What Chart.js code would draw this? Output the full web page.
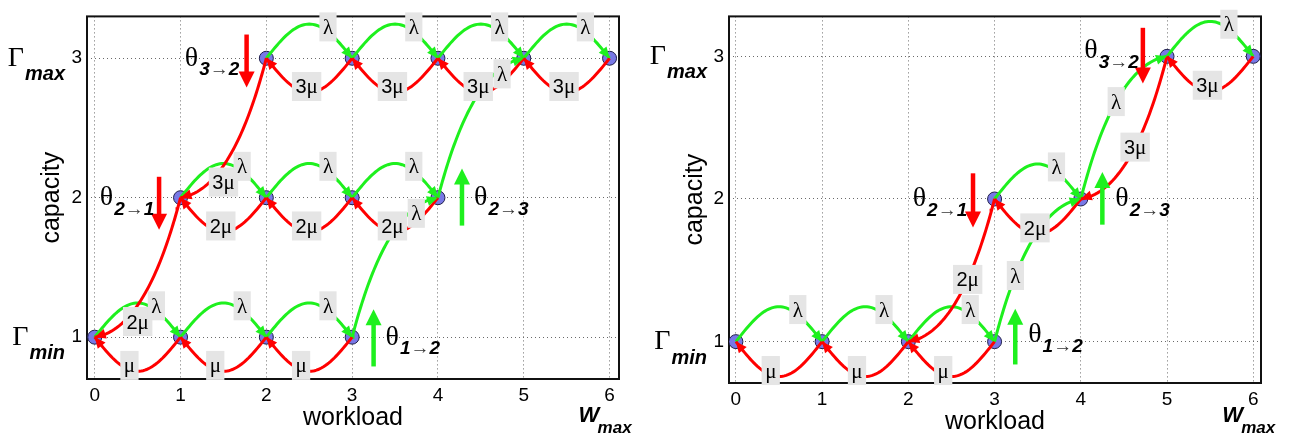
<!DOCTYPE html>
<html>
<head>
<meta charset="utf-8">
<script src="https://cdn.jsdelivr.net/npm/chart.js@4.4.1/dist/chart.umd.min.js"></script>
<style>
  body { margin: 0; background: #fff; width: 1290px; height: 441px; overflow: hidden; position: relative; }
  canvas { position: absolute; top: 0; }
  #left { left: 0; }
  #right { left: 645px; }
</style>
</head>
<body>
<canvas id="left" width="645" height="441"></canvas>
<canvas id="right" width="645" height="441"></canvas>
<script>
// axis ticks
var xTicks = [0, 1, 2, 3, 4, 5, 6];
var yTicks = [1, 2, 3];
var capLabels = [[3, "max"], [1, "min"]];

// left panel: states [workload, capacity]
var statesA = [[0, 1], [1, 1], [2, 1], [3, 1], [1, 2], [2, 2], [3, 2], [4, 2],
               [2, 3], [3, 3], [4, 3], [5, 3], [6, 3]];
// arrivals [from w, from c, to w, to c, rate]
var upA = [[0, 1, 1, 1, "λ"], [1, 1, 2, 1, "λ"], [2, 1, 3, 1, "λ"],
           [1, 2, 2, 2, "λ"], [2, 2, 3, 2, "λ"], [3, 2, 4, 2, "λ"],
           [2, 3, 3, 3, "λ"], [3, 3, 4, 3, "λ"], [4, 3, 5, 3, "λ"], [5, 3, 6, 3, "λ"],
           [3, 1, 4, 2, "λ"], [4, 2, 5, 3, "λ"]];
// departures
var downA = [[1, 1, 0, 1, "μ"], [2, 1, 1, 1, "μ"], [3, 1, 2, 1, "μ"],
             [2, 2, 1, 2, "2μ"], [3, 2, 2, 2, "2μ"], [4, 2, 3, 2, "2μ"],
             [3, 3, 2, 3, "3μ"], [4, 3, 3, 3, "3μ"], [5, 3, 4, 3, "3μ"], [6, 3, 5, 3, "3μ"],
             [1, 2, 0, 1, "2μ"], [2, 3, 1, 2, "3μ"]];
// thresholds [name, x, arrow from, arrow to, text x, text y]
var thetaA = [["2→1", 0.75, 2.15, 1.77, 0.06, 2.0], ["3→2", 1.77, 3.17, 2.79, 1.05, 3.0],
              ["1→2", 3.25, 0.79, 1.2, 3.39, 1.0], ["2→3", 4.28, 1.8, 2.21, 4.42, 2.0]];

// right panel
var statesB = [[0, 1], [1, 1], [2, 1], [3, 1], [3, 2], [4, 2], [5, 3], [6, 3]];
var upB = [[0, 1, 1, 1, "λ"], [1, 1, 2, 1, "λ"], [2, 1, 3, 1, "λ"],
           [3, 2, 4, 2, "λ"], [5, 3, 6, 3, "λ"],
           [3, 1, 4, 2, "λ", 0.38], [4, 2, 5, 3, "λ", 0.56]];
var downB = [[1, 1, 0, 1, "μ"], [2, 1, 1, 1, "μ"], [3, 1, 2, 1, "μ"],
             [4, 2, 3, 2, "2μ"], [6, 3, 5, 3, "3μ"],
             [3, 2, 2, 1, "2μ", 0.46], [5, 3, 4, 2, "3μ", 0.52]];
var thetaB = [["2→1", 2.75, 2.18, 1.8, 2.05, 2.0], ["1→2", 3.24, 0.84, 1.23, 3.39, 1.05],
              ["2→3", 4.25, 1.82, 2.19, 4.4, 2.0], ["3→2", 4.72, 3.2, 2.81, 4.04, 3.04]];

var GREEN = "#1ef01e";
var RED = "#ff0000";
var ARC = 0.245;

var panels = {
  left: { states: statesA, up: upA, down: downA, thetas: thetaA,
          xMin: -0.09, xMax: 6.11, yMin: 0.7, yMax: 3.3,
          pad: { left: 87, right: 26, top: 6, bottom: 62 }, yTitlePad: 37, xTitlePad: 8 },
  right: { states: statesB, up: upB, down: downB, thetas: thetaB,
           xMin: -0.08, xMax: 6.09, yMin: 0.71, yMax: 3.28,
           pad: { left: 84, right: 29, top: 6, bottom: 58 }, yTitlePad: 35, xTitlePad: 4 }
};

// point on a transition path, t from 0 (source) to 1 (target)
function curve(tr, t) {
  var x0 = tr[0], y0 = tr[1], x1 = tr[2], y1 = tr[3];
  if (y0 === y1) {
    var s = x1 > x0 ? 1 : -1;
    return [x0 + (x1 - x0) * t, y0 + s * ARC * Math.sin(Math.PI * t)];
  }
  var u = 1 - t, b = 3 * u * u * t, c = 3 * u * t * t, d = t * t * t;
  return [x0 + (x1 - x0) * (b * 0.15 + c * 0.45 + d), y0 + (y1 - y0) * (b * 0.35 + c * 0.95 + d)];
}

function sample(tr) {
  var pts = [];
  for (var i = 0; i <= 48; i++) {
    var p = curve(tr, i / 48);
    pts.push({ x: p[0], y: p[1] });
  }
  return pts;
}

function px(chart, p) {
  return [chart.scales.x.getPixelForValue(p[0]), chart.scales.y.getPixelForValue(p[1])];
}

function head(ctx, tip, from, len, half, color) {
  var dx = tip[0] - from[0], dy = tip[1] - from[1], d = Math.hypot(dx, dy);
  dx /= d; dy /= d;
  var bx = tip[0] - dx * len, by = tip[1] - dy * len;
  ctx.beginPath();
  ctx.moveTo(tip[0], tip[1]);
  ctx.lineTo(bx - dy * half, by + dx * half);
  ctx.lineTo(bx + dy * half, by - dx * half);
  ctx.closePath();
  ctx.fillStyle = color;
  ctx.fill();
}

function rateLabel(ctx, text, x, y, align) {
  var digits = text.slice(0, -1), greek = text.slice(-1);
  ctx.font = '20px "Liberation Sans"';
  var wd = digits ? ctx.measureText(digits).width : 0;
  ctx.font = '21px "Liberation Serif"';
  var wg = ctx.measureText(greek).width;
  var w = wd + wg + 7, h = 29;
  var left = align === "left" ? x - 1 : x - w / 2;
  ctx.fillStyle = "#e5e5e5";
  ctx.fillRect(left, y - h / 2, w, h);
  ctx.fillStyle = "#000";
  ctx.textAlign = "left";
  ctx.textBaseline = "alphabetic";
  var base = y + 7;
  if (digits) {
    ctx.font = '20px "Liberation Sans"';
    ctx.fillText(digits, left + 3.5, base);
  }
  ctx.font = '21px "Liberation Serif"';
  ctx.fillText(greek, left + 3.5 + wd, base);
}

function labelFor(chart, tr, isUp) {
  var ctx = chart.ctx;
  if (tr.length > 5) {
    var c = px(chart, curve(tr, tr[5]));
    rateLabel(ctx, tr[4], c[0], c[1], "center");
    return;
  }
  var t = tr[1] !== tr[3] ? 0.77 : (isUp ? 0.63 : 0.69);
  var a = px(chart, curve(tr, t));
  rateLabel(ctx, tr[4], a[0], a[1], "left");
}

var diagramPlugin = {
  id: "diagram",
  beforeDatasetsDraw: function (chart) {
    var a = chart.chartArea, ctx = chart.ctx;
    ctx.save();
    ctx.strokeStyle = "#111";
    ctx.lineWidth = 2;
    ctx.strokeRect(a.left, a.top, a.right - a.left, a.bottom - a.top);
    ctx.restore();
  },
  afterDatasetsDraw: function (chart) {
    var p = panels[chart.canvas.id], ctx = chart.ctx;
    ctx.save();
    p.up.forEach(function (tr) {
      head(ctx, px(chart, curve(tr, 1)), px(chart, curve(tr, 0.9)), 11, 5, GREEN);
    });
    p.down.forEach(function (tr) {
      head(ctx, px(chart, curve(tr, 1)), px(chart, curve(tr, 0.9)), 11, 5, RED);
    });
    // threshold arrows
    p.thetas.forEach(function (th) {
      var color = th[3] > th[2] ? GREEN : RED;
      var s = px(chart, [th[1], th[2]]), e = px(chart, [th[1], th[3]]);
      var dir = e[1] > s[1] ? 1 : -1;
      ctx.strokeStyle = color;
      ctx.lineWidth = 4.5;
      ctx.beginPath();
      ctx.moveTo(s[0], s[1]);
      ctx.lineTo(e[0], e[1] - dir * 14);
      ctx.stroke();
      head(ctx, e, s, 16, 8, color);
    });
    // rate labels: cross-level first, then same-level
    [true, false].forEach(function (cross) {
      p.up.forEach(function (tr) { if ((tr[1] !== tr[3]) === cross) labelFor(chart, tr, true); });
      p.down.forEach(function (tr) { if ((tr[1] !== tr[3]) === cross) labelFor(chart, tr, false); });
    });
    // threshold names
    p.thetas.forEach(function (th) {
      var q = px(chart, [th[4], th[5]]);
      ctx.fillStyle = "#000";
      ctx.textAlign = "left";
      ctx.textBaseline = "middle";
      ctx.font = '28px "Liberation Serif"';
      ctx.fillText("θ", q[0], q[1]);
      var sx = q[0] + ctx.measureText("θ").width + 1, sy = q[1] + 17;
      var parts = th[0].split("→");
      ctx.textBaseline = "alphabetic";
      ctx.font = 'bold italic 19px "Liberation Sans"';
      ctx.fillText(parts[0], sx, sy);
      sx += ctx.measureText(parts[0]).width;
      ctx.font = '19px "Liberation Sans"';
      ctx.fillStyle = "#333";
      ctx.fillText("→", sx, sy);
      sx += ctx.measureText("→").width;
      ctx.fillStyle = "#000";
      ctx.font = 'bold italic 19px "Liberation Sans"';
      ctx.fillText(parts[1], sx, sy);
    });
    ctx.restore();
  },
  afterDraw: function (chart) {
    var a = chart.chartArea, ctx = chart.ctx;
    ctx.save();
    ctx.fillStyle = "#000";
    capLabels.forEach(function (cl) {
      var yy = chart.scales.y.getPixelForValue(cl[0]);
      var right = a.left - 22;
      ctx.textAlign = "right";
      ctx.textBaseline = "alphabetic";
      ctx.font = 'bold italic 20px "Liberation Sans"';
      ctx.fillText(cl[1], right, yy + 22);
      var sw = ctx.measureText(cl[1]).width;
      ctx.font = '28px "Liberation Serif"';
      ctx.textBaseline = "middle";
      ctx.fillText("Γ", right - sw - 1, yy);
    });
    var x6 = chart.scales.x.getPixelForValue(xTicks[xTicks.length - 1]);
    ctx.textAlign = "left";
    ctx.textBaseline = "alphabetic";
    ctx.font = 'bold italic 22px "Liberation Sans"';
    ctx.fillText("W", x6 - 31, chart.height - 19);
    ctx.font = 'bold italic 17px "Liberation Sans"';
    ctx.fillText("max", x6 - 12, chart.height - 8);
    ctx.restore();
  }
};

Chart.defaults.font.family = '"Liberation Sans", Arial, sans-serif';
Chart.defaults.color = "#000";

function drawPanel(id) {
  var p = panels[id];
  var datasets = [{
    data: p.states.map(function (s) { return { x: s[0], y: s[1] }; }),
    showLine: false,
    pointRadius: 7,
    pointBackgroundColor: "#7878e6",
    pointBorderColor: "#20204a",
    pointBorderWidth: 1,
    order: 3
  }];
  p.up.forEach(function (tr) {
    datasets.push({ data: sample(tr), showLine: true, borderColor: GREEN, borderWidth: 3,
                    pointRadius: 0, tension: 0, order: 2, clip: false });
  });
  p.down.forEach(function (tr) {
    datasets.push({ data: sample(tr), showLine: true, borderColor: RED, borderWidth: 3,
                    pointRadius: 0, tension: 0, order: 1, clip: false });
  });

  var config = {
    type: "scatter",
    data: { datasets: datasets },
    options: {
      responsive: false,
      animation: false,
      devicePixelRatio: 1,
      events: [],
      layout: { padding: { left: 0, right: p.pad.right, top: p.pad.top, bottom: 0 } },
      plugins: { legend: { display: false }, tooltip: { enabled: false } },
      scales: {
        x: {
          type: "linear", min: p.xMin, max: p.xMax,
          afterBuildTicks: function (s) { s.ticks = xTicks.map(function (v) { return { value: v }; }); },
          afterFit: function (s) { s.height = p.pad.bottom; },
          ticks: { font: { size: 19 }, color: "#000", padding: 5 },
          grid: { color: "#6a6a6a", lineWidth: 1, drawTicks: false },
          border: { display: false, dash: [1, 3] },
          title: { display: true, text: "workload", font: { size: 25 }, color: "#000",
                   padding: { top: 0, bottom: p.xTitlePad } }
        },
        y: {
          type: "linear", min: p.yMin, max: p.yMax,
          afterBuildTicks: function (s) { s.ticks = yTicks.map(function (v) { return { value: v }; }); },
          afterFit: function (s) { s.width = p.pad.left; },
          ticks: { font: { size: 19 }, color: "#000", padding: 5 },
          grid: { color: "#6a6a6a", lineWidth: 1, drawTicks: false },
          border: { display: false, dash: [1, 3] },
          title: { display: true, text: "capacity", font: { size: 25 }, color: "#000",
                   padding: { top: p.yTitlePad, bottom: 0 } }
        }
      }
    },
    plugins: [diagramPlugin]
  };
  return new Chart(document.getElementById(id), config);
}

drawPanel("left");
drawPanel("right");
</script>
</body>
</html>
